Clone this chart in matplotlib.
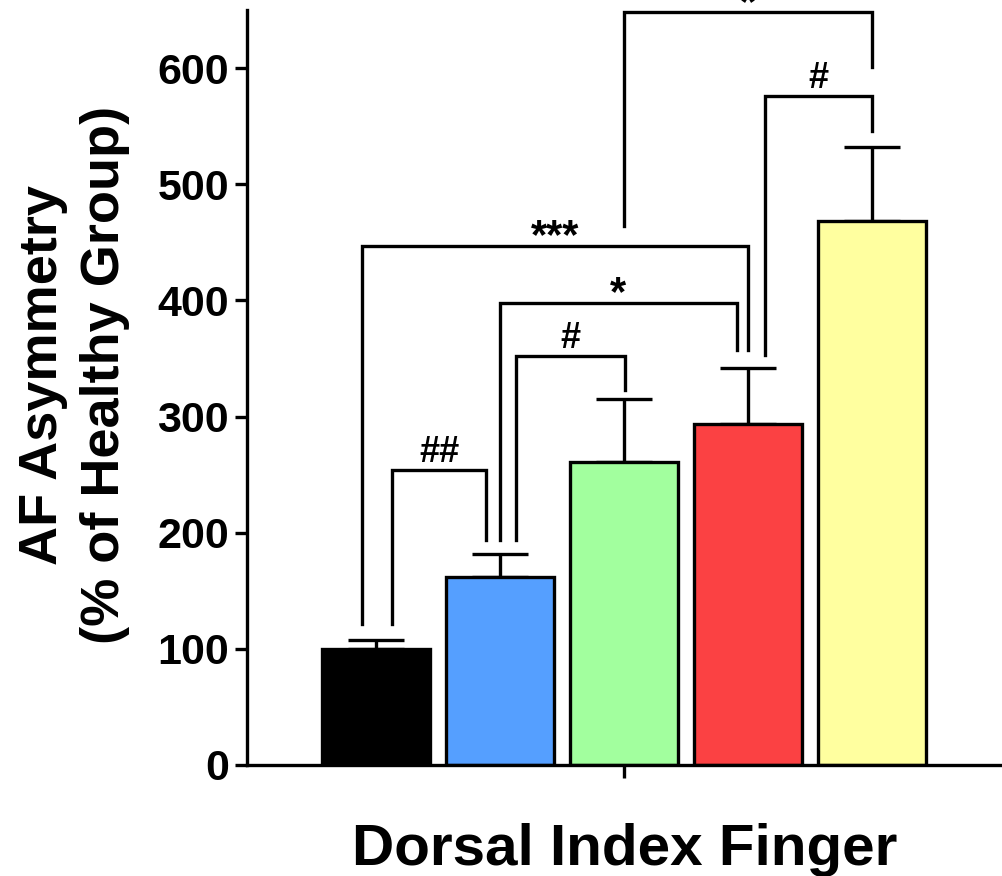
import matplotlib.pyplot as plt
import numpy as np

groups = ['G1', 'G2', 'G3', 'G4', 'G5']
means = [100, 162, 261, 294, 468]
sems = [8, 20, 54, 48, 64]
colors = ['#000000', '#559FFF', '#A2FF9E', '#FB4143', '#FFFF9F']

# (left x, right x, top y, left leg end, right leg end, label)
brackets = [
    (0.13, 0.89, 254, 121, 194, '##'),
    (-0.11, 3.00, 447, 121, 357, '***'),
    (1.00, 2.91, 398, 194, 357, '*'),
    (1.13, 2.01, 352, 194, 323, '#'),
    (3.14, 4.00, 576, 353, 546, '#'),
    (2.00, 4.00, 648, 464, 601, '*'),
]

plt.rcParams['font.family'] = ['Liberation Sans', 'DejaVu Sans']
plt.rcParams['font.weight'] = 'bold'

fig = plt.figure(figsize=(10.03, 8.76), dpi=100)
ax = fig.add_axes([247 / 1003, 111 / 876, 1 - 247 / 1003, 755 / 876])

x = np.arange(len(groups))
ax.bar(x, means, width=0.87, color=colors, edgecolor='black', linewidth=2.4, zorder=2)
ax.errorbar(x, means, yerr=[np.zeros(len(sems)), sems], fmt='none', ecolor='black',
            elinewidth=2.4, capsize=20, capthick=2.4, zorder=1)

for x0, x1, top, yl, yr, lab in brackets:
    ax.plot([x0, x0, x1, x1], [yl, top, top, yr], color='black', lw=2.4,
            solid_joinstyle='miter', clip_on=False, zorder=3)
    if '*' in lab:
        dy, fs = -2, 30
    else:
        dy, fs = 6, 26
    ax.annotate(lab, ((x0 + x1) / 2, top), xytext=(0, dy), textcoords='offset points',
                ha='center', va='baseline', fontsize=fs, fontweight='bold',
                annotation_clip=False)

ax.set_xlim(-1.04, 5.06)
ax.set_ylim(0, 650)
ax.set_yticks([0, 100, 200, 300, 400, 500, 600])
ax.set_xticks([2])
ax.set_xticklabels([''])
ax.spines['top'].set_visible(False)
ax.spines['right'].set_visible(False)
for s in ['left', 'bottom']:
    ax.spines[s].set_linewidth(2.4)
ax.tick_params(axis='y', length=9, width=2.4, labelsize=31, pad=4)
ax.tick_params(axis='x', length=9, width=2.4)
for t in ax.get_yticklabels():
    t.set_fontweight('heavy')

ax.set_xlabel('Dorsal Index Finger', fontsize=42, fontweight='bold', va='baseline')
ax.xaxis.set_label_coords(0.5, -100 / 755)
fig.text(0.074, 1 - 375 / 876, 'AF Asymmetry\n(% of Healthy Group)', rotation=90,
         ha='center', va='center', fontsize=39, fontweight='bold',
         linespacing=1.3, multialignment='center')

fig.savefig('out.png', dpi=100)
